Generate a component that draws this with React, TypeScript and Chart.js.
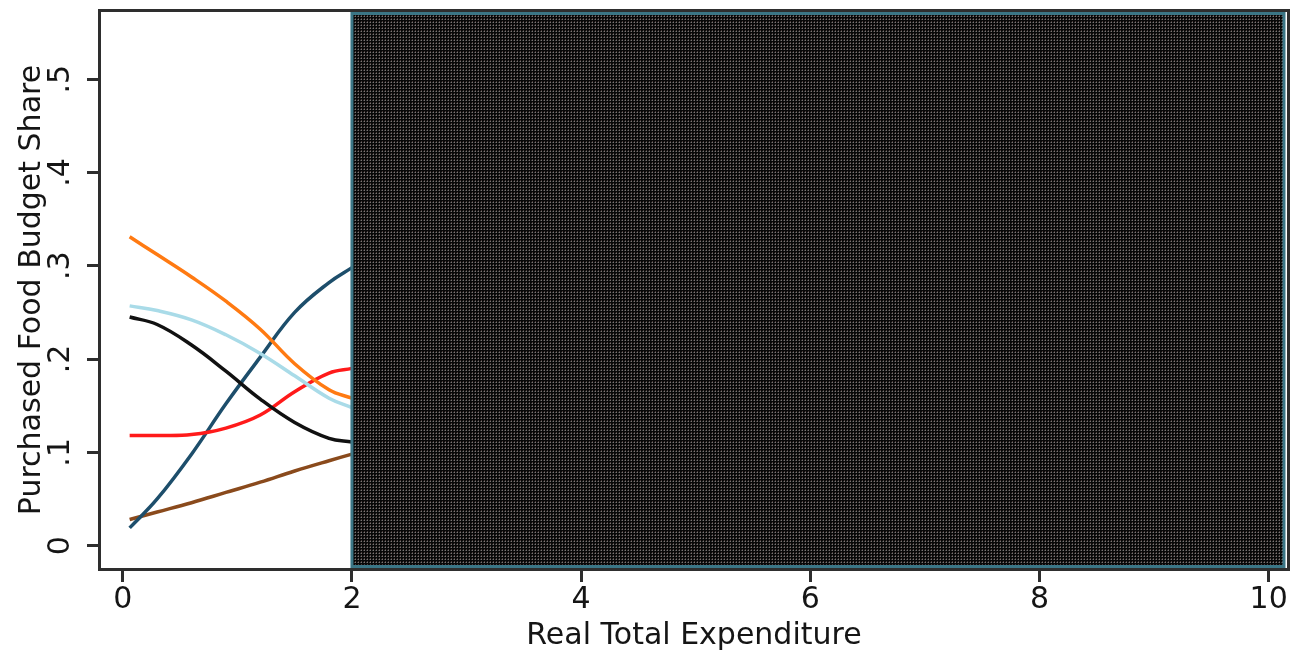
import React, { useEffect, useRef } from "react";
import { Chart, registerables } from "chart.js";

Chart.register(...registerables);

const xValues = [0.06, 0.3, 0.6, 0.9, 1.2, 1.5, 1.8, 2.0];
const orangeShare = [0.331, 0.312, 0.288, 0.262, 0.232, 0.195, 0.167, 0.158];
const lightBlueShare = [0.257, 0.252, 0.242, 0.226, 0.206, 0.182, 0.158, 0.148];
const blackShare = [0.245, 0.237, 0.215, 0.187, 0.157, 0.132, 0.115, 0.111];
const redShare = [0.118, 0.118, 0.119, 0.126, 0.14, 0.165, 0.185, 0.19];
const darkBlueShare = [0.019, 0.05, 0.098, 0.152, 0.202, 0.25, 0.282, 0.298];
const brownShare = [0.028, 0.036, 0.046, 0.057, 0.068, 0.08, 0.091, 0.098];

const xTicks = [0, 2, 4, 6, 8, 10];
const yTicks = [0, 0.1, 0.2, 0.3, 0.4, 0.5];
const maskStart = 2;

const FONT = "'DejaVu Sans', 'Liberation Sans', Arial, sans-serif";

const series = [
  { label: "orange", data: orangeShare, color: "#ff7a12" },
  { label: "lightblue", data: lightBlueShare, color: "#a9dbe8" },
  { label: "black", data: blackShare, color: "#111111" },
  { label: "red", data: redShare, color: "#ff1a1a" },
  { label: "darkblue", data: darkBlueShare, color: "#1d4e6b" },
  { label: "brown", data: brownShare, color: "#8a4a1c" },
];

function makePattern(ctx: CanvasRenderingContext2D) {
  const c = document.createElement("canvas");
  c.width = 3;
  c.height = 3;
  const p = c.getContext("2d")!;
  p.fillStyle = "#080808";
  p.fillRect(0, 0, 3, 3);
  p.fillStyle = "#7a7474";
  p.fillRect(1, 1, 1, 1);
  p.fillStyle = "#4a3c3a";
  p.fillRect(1, 0, 1, 1);
  p.fillStyle = "#3a3a3a";
  p.fillRect(0, 1, 1, 1);
  return ctx.createPattern(c, "repeat");
}

const framePlugin = {
  id: "frame",
  beforeDatasetsDraw(chart: any) {
    const { ctx, chartArea } = chart;
    ctx.save();
    ctx.strokeStyle = "#2e2e2e";
    ctx.lineWidth = 3;
    ctx.strokeRect(chartArea.left - 1.5, chartArea.top - 1.5, chartArea.right - chartArea.left + 3, chartArea.bottom - chartArea.top + 3);
    ctx.restore();
  },
  afterDatasetsDraw(chart: any) {
    const { ctx, chartArea, scales } = chart;
    const x0 = scales.x.getPixelForValue(maskStart);
    const x1 = chartArea.right - 3;
    const y0 = chartArea.top + 1.5;
    const y1 = chartArea.bottom - 1.5;
    ctx.save();
    ctx.fillStyle = makePattern(ctx) || "#1c1c1c";
    ctx.fillRect(x0, y0, x1 - x0, y1 - y0);
    ctx.strokeStyle = "#3b7686";
    ctx.lineWidth = 3;
    ctx.strokeRect(x0, y0, x1 - x0, y1 - y0);
    ctx.restore();
  },
};

export default function App() {
  const ref = useRef<HTMLCanvasElement | null>(null);
  useEffect(() => {
    if (!ref.current) return;
    const chart = new Chart(ref.current, {
      type: "line",
      data: {
        datasets: series.map((s) => ({
          label: s.label,
          data: xValues.map((x, i) => ({ x, y: s.data[i] })),
          borderColor: s.color,
          backgroundColor: s.color,
          borderWidth: 3.5,
          pointRadius: 0,
          tension: 0.4,
          fill: false,
        })),
      },
      plugins: [framePlugin],
      options: {
        animation: false,
        responsive: true,
        maintainAspectRatio: false,
        layout: { padding: { top: 12, right: 3, left: 0, bottom: 0 } },
        plugins: { legend: { display: false }, tooltip: { enabled: false }, title: { display: false } },
        scales: {
          x: {
            type: "linear",
            min: -0.19,
            max: 10.16,
            afterFit: (s: any) => {
              s.height = 84;
              s.paddingLeft = 0;
              s.paddingRight = 0;
            },
            afterBuildTicks: (s: any) => {
              s.ticks = xTicks.map((v) => ({ value: v }));
            },
            ticks: {
              padding: 3,
              color: "#151515",
              font: { family: FONT, size: 30, lineHeight: 1 },
              maxRotation: 0,
              autoSkip: false,
            },
            grid: { drawOnChartArea: false, drawTicks: true, tickLength: 14, color: "#2e2e2e", lineWidth: 3 },
            border: { display: false },
            title: {
              display: true,
              text: "Real Total Expenditure",
              color: "#151515",
              font: { family: FONT, size: 30, lineHeight: 1 },
              padding: { top: 0, bottom: 1 },
            },
          },
          y: {
            type: "linear",
            min: -0.024,
            max: 0.572,
            afterFit: (s: any) => {
              s.width = 101;
              s.paddingTop = 0;
              s.paddingBottom = 0;
            },
            afterBuildTicks: (s: any) => {
              s.ticks = yTicks.map((v) => ({ value: v }));
            },
            ticks: {
              minRotation: 90,
              maxRotation: 90,
              crossAlign: "center",
              padding: 11,
              color: "#151515",
              font: { family: FONT, size: 30, lineHeight: 1 },
              autoSkip: false,
              callback: (v: any) => (Number(v) === 0 ? "0" : Number(v).toFixed(1).replace(/^0/, "")),
            },
            grid: { drawOnChartArea: false, drawTicks: true, tickLength: 14, color: "#2e2e2e", lineWidth: 3 },
            border: { display: false },
            title: {
              display: true,
              text: "Purchased Food Budget Share",
              color: "#151515",
              font: { family: FONT, size: 30, lineHeight: 1 },
              padding: { top: 17, bottom: 0 },
            },
          },
        },
      },
    } as any);
    return () => chart.destroy();
  }, []);
  return (
    <div style={{ position: "absolute", left: 0, top: 0, width: 1290, height: 652, background: "#ffffff" }}>
      <canvas ref={ref} />
    </div>
  );
}
